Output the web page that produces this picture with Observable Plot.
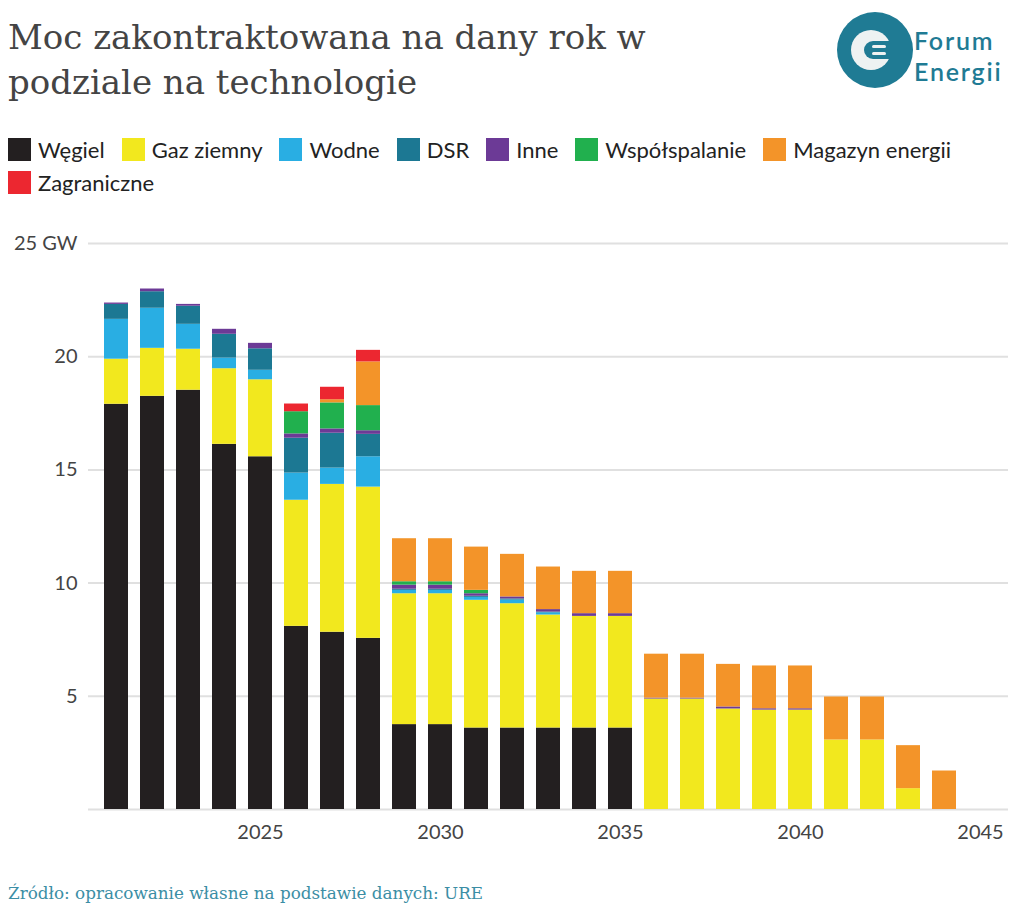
<!DOCTYPE html>
<html>
<head>
<meta charset="utf-8">
<script src="https://cdn.jsdelivr.net/npm/d3@7"></script>
<script src="https://cdn.jsdelivr.net/npm/@observablehq/plot@0.6"></script>
<style>
  html, body { margin: 0; padding: 0; background: #fff; }
  body { width: 1024px; height: 922px; position: relative; overflow: hidden; font-family: Lato, "Noto Sans", sans-serif; }
  #title { position: absolute; left: 8px; top: 15px; font-family: "DejaVu Serif", serif; font-size: 34px; line-height: 45px; color: #444; }
  #logo { position: absolute; left: 826px; top: 0px; }
  #legend { position: absolute; left: 8px; top: 136px; width: 970px; display: flex; flex-wrap: wrap; row-gap: 7px; }
  .item { display: flex; align-items: center; margin-right: 17px; height: 26px; font-size: 22px; color: #222; }
  .sw { width: 23px; height: 23px; margin-right: 7px; }
  #chart { position: absolute; left: 0; top: 215px; }
  #caption { position: absolute; left: 8px; top: 883px; font-family: "DejaVu Serif", serif; font-size: 16.8px; color: #3b8ea5; }
</style>
</head>
<body>
<div id="title">Moc zakontraktowana na dany rok w<br>podziale na technologie</div>
<svg id="logo" width="198" height="100">
  <circle cx="49" cy="50" r="38" fill="#1f7b94"></circle>
  <circle cx="45" cy="50" r="20" fill="#eef2f2"></circle>
  <circle cx="47" cy="50" r="9" fill="#1f7b94"></circle>
  <rect x="47" y="41" width="20" height="18" fill="#1f7b94"></rect>
  <rect x="46" y="45" width="14" height="3" rx="1.5" fill="#eef2f2"></rect>
  <rect x="46" y="52" width="14" height="3" rx="1.5" fill="#eef2f2"></rect>
  <text x="88" y="50" font-family="Lato, sans-serif" font-weight="600" font-size="25" letter-spacing="1.8" fill="#1f7b94">Forum</text>
  <text x="88" y="81" font-family="Lato, sans-serif" font-weight="600" font-size="25" letter-spacing="1.8" fill="#1f7b94">Energii</text>
</svg>
<div id="legend"></div>
<div id="chart"></div>
<div id="caption">Źródło: opracowanie własne na podstawie danych: URE</div>
<script>
// ---- data (GW) ----
const years = [2021, 2022, 2023, 2024, 2025, 2026, 2027, 2028, 2029, 2030, 2031, 2032, 2033, 2034, 2035, 2036, 2037, 2038, 2039, 2040, 2041, 2042, 2043, 2044];
const wegiel        = [17.90, 18.25, 18.52, 16.13, 15.58, 8.09, 7.83, 7.56, 3.75, 3.75, 3.60, 3.60, 3.60, 3.60, 3.60, 0, 0, 0, 0, 0, 0, 0, 0, 0];
const gaz           = [1.99, 2.12, 1.81, 3.34, 3.40, 5.57, 6.53, 6.68, 5.78, 5.78, 5.64, 5.49, 4.99, 4.93, 4.93, 4.88, 4.88, 4.44, 4.39, 4.39, 3.07, 3.07, 0.92, 0];
const wodne         = [1.76, 1.77, 1.10, 0.47, 0.42, 1.20, 0.72, 1.34, 0.15, 0.15, 0.13, 0.16, 0.10, 0, 0, 0, 0, 0, 0, 0, 0, 0, 0, 0];
const dsr           = [0.66, 0.73, 0.80, 1.05, 0.95, 1.54, 1.54, 0.99, 0.05, 0.05, 0.05, 0.05, 0.03, 0, 0, 0, 0, 0, 0, 0, 0, 0, 0, 0];
const inne          = [0.06, 0.12, 0.08, 0.22, 0.24, 0.19, 0.19, 0.16, 0.18, 0.18, 0.11, 0.09, 0.11, 0.12, 0.12, 0.04, 0.04, 0.09, 0.06, 0.06, 0, 0, 0, 0];
const wspolspalanie = [0, 0, 0, 0, 0, 0.98, 1.15, 1.11, 0.15, 0.15, 0.15, 0, 0, 0, 0, 0, 0, 0, 0, 0, 0, 0, 0, 0];
const magazyn       = [0, 0, 0, 0, 0, 0, 0.14, 1.93, 1.90, 1.90, 1.91, 1.88, 1.88, 1.87, 1.87, 1.94, 1.94, 1.88, 1.89, 1.89, 1.90, 1.90, 1.90, 1.70];
const zagraniczne   = [0, 0, 0, 0, 0, 0.34, 0.55, 0.51, 0, 0, 0, 0, 0, 0, 0, 0, 0, 0, 0, 0, 0, 0, 0, 0];

const techNames  = ["Węgiel", "Gaz ziemny", "Wodne", "DSR", "Inne", "Współspalanie", "Magazyn energii", "Zagraniczne"];
const techColors = ["#231f20", "#f2e81e", "#29aee3", "#1c7893", "#6c3a96", "#21b04e", "#f39429", "#ec2730"];
const seriesValues = [wegiel, gaz, wodne, dsr, inne, wspolspalanie, magazyn, zagraniczne];

const xDomainYears = years.concat([2045]);
const xTicks = [2025, 2030, 2035, 2040, 2045];
const yTicks = [0, 5, 10, 15, 20, 25];

// ---- long table ----
const rows = [];
techNames.forEach((tech, i) => {
  years.forEach((year, j) => {
    const v = seriesValues[i][j];
    if (v > 0) rows.push({year, tech, value: v});
  });
});

// ---- legend ----
const legend = document.getElementById("legend");
techNames.forEach((t, i) => {
  const it = document.createElement("div");
  it.className = "item";
  const sw = document.createElement("div");
  sw.className = "sw";
  sw.style.background = techColors[i];
  const lb = document.createElement("span");
  lb.textContent = t;
  it.appendChild(sw); it.appendChild(lb);
  legend.appendChild(it);
});

// ---- chart ----
const chart = Plot.plot({
  width: 1024,
  height: 634,
  marginLeft: 88,
  marginRight: 16,
  marginTop: 28,
  marginBottom: 40,
  style: {fontFamily: "Lato, sans-serif", fontSize: "20px", color: "#444", background: "transparent"},
  x: {type: "band", domain: xDomainYears, paddingInner: 0.32, paddingOuter: 0.16, align: 0.5,
      ticks: xTicks, tickSize: 0, tickPadding: 15, label: null, tickFormat: d => String(d)},
  y: {domain: [0, 25], ticks: yTicks.filter(d => d > 0), tickSize: 0, tickPadding: 11, label: null,
      tickFormat: d => d === 25 ? "25 GW" : String(d)},
  color: {domain: techNames, range: techColors},
  marks: [
    Plot.ruleY(yTicks, {stroke: "#e0e0e0", strokeWidth: 2}),
    Plot.barY(rows, {x: "year", y: "value", fill: "tech", inset: 0})
  ]
});
document.getElementById("chart").appendChild(chart);
</script>
</body>
</html>
